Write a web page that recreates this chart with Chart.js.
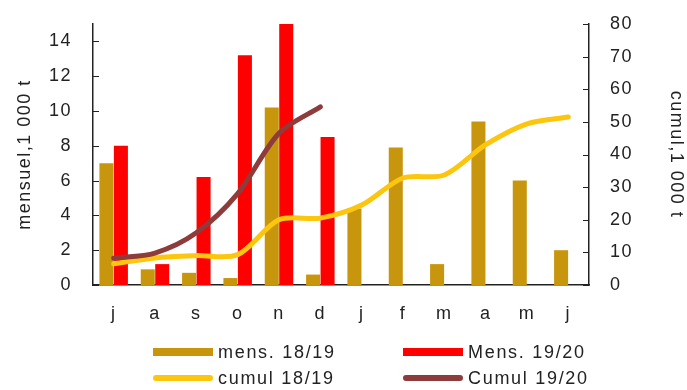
<!DOCTYPE html>
<html>
<head>
<meta charset="utf-8">
<script src="https://cdn.jsdelivr.net/npm/chart.js@4.4.1/dist/chart.umd.min.js"></script>
<style>
  html, body { margin: 0; padding: 0; background: #fff; }
  #wrap { position: relative; width: 687px; height: 390px; overflow: hidden; }
  #c { position: absolute; left: 0; top: 0; }
  #legend { position: absolute; left: 0; top: 0; width: 687px; height: 390px; pointer-events: none;
    font-family: "Liberation Sans", Arial, sans-serif; font-size: 18px; color: #222; letter-spacing: 1.7px; }
  .item { position: absolute; display: flex; align-items: center; white-space: nowrap; }
  .sw { display: inline-block; width: 60px; margin-right: 5px; }
</style>
</head>
<body>
<div id="wrap">
  <canvas id="c" width="687" height="390"></canvas>
  <div id="legend"></div>
</div>
<script>
// ---- data ----
const months = ['j', 'a', 's', 'o', 'n', 'd', 'j', 'f', 'm', 'a', 'm', 'j'];
const mens1819 = [7.0, 0.9, 0.7, 0.4, 10.2, 0.6, 4.4, 7.9, 1.2, 9.4, 6.0, 2.0];
const mens1920 = [8.0, 1.2, 6.2, 13.2, 15.0, 8.5, null, null, null, null, null, null];
const cumul1819 = [6.5, 8.3, 9.0, 9.3, 20.0, 20.5, 24.5, 32.8, 33.7, 43.0, 49.4, 51.5];
const cumul1920 = [8.2, 9.8, 16.0, 28.0, 46.5, 54.6, null, null, null, null, null, null];
const leftTicks = [0, 2, 4, 6, 8, 10, 12, 14];
const rightTicks = [0, 10, 20, 30, 40, 50, 60, 70, 80];
const labels = ['mens. 18/19', 'Mens. 19/20', 'cumul 18/19', 'Cumul 19/20'];
const titleLeft = 'mensuel,1 000 t';
const titleRight = 'cumul,1 000 t';

const cGold = '#C8960C';
const cRed = '#FF0000';
const cYellow = '#FCC60E';
const cBrown = '#8E3B3B';
const FONT = { family: '"Liberation Sans", Arial, sans-serif', size: 18 };

const datasets = [
  { type: 'bar', label: labels[0], data: mens1819, backgroundColor: cGold, yAxisID: 'y', order: 2,
    categoryPercentage: 0.7, barPercentage: 0.97 },
  { type: 'bar', label: labels[1], data: mens1920, backgroundColor: cRed, yAxisID: 'y', order: 2,
    categoryPercentage: 0.7, barPercentage: 0.97 },
  { type: 'line', label: labels[2], data: cumul1819, borderColor: cYellow, backgroundColor: cYellow,
    borderWidth: 5, pointRadius: 0, tension: 0.3, yAxisID: 'y2', order: 1, borderCapStyle: 'round', borderJoinStyle: 'round' },
  { type: 'line', label: labels[3], data: cumul1920, borderColor: cBrown, backgroundColor: cBrown,
    borderWidth: 5, pointRadius: 0, tension: 0.3, yAxisID: 'y2', order: 0, borderCapStyle: 'round', borderJoinStyle: 'round' }
];

// letter spacing (the reference text is slightly spread) + inward tick marks
const stylePlugin = {
  id: 'stylePlugin',
  beforeDraw(chart) { chart.ctx.letterSpacing = '1.5px'; },
  afterDraw(chart) {
    const ctx = chart.ctx;
    const { left, right } = chart.chartArea;
    ctx.save();
    ctx.strokeStyle = '#222';
    ctx.lineWidth = 1;
    const ys = chart.scales.y, y2 = chart.scales.y2;
    ys.ticks.forEach(t => {
      const p = Math.round(ys.getPixelForValue(t.value)) + 0.5;
      ctx.beginPath(); ctx.moveTo(left, p); ctx.lineTo(left + 6, p); ctx.stroke();
    });
    y2.ticks.forEach(t => {
      const p = Math.round(y2.getPixelForValue(t.value)) + 0.5;
      ctx.beginPath(); ctx.moveTo(right - 6, p); ctx.lineTo(right, p); ctx.stroke();
    });
    ctx.restore();
  }
};

const noPad = s => { s.paddingTop = 0; s.paddingBottom = 0; s.paddingLeft = 0; s.paddingRight = 0; };

const chart = new Chart(document.getElementById('c'), {
  data: { labels: months, datasets },
  plugins: [stylePlugin],
  options: {
    responsive: false,
    devicePixelRatio: 1,
    animation: false,
    layout: { padding: { left: 0, right: 0, top: 24, bottom: 65 } },
    plugins: { legend: { display: false }, tooltip: { enabled: false } },
    scales: {
      x: {
        grid: { display: false, drawTicks: false },
        border: { display: true, color: '#222', width: 1.5 },
        ticks: { font: FONT, color: '#222', padding: 18, maxRotation: 0 },
        afterFit: s => { s.height = 40; noPad(s); }
      },
      y: {
        position: 'left', min: 0, max: 15,
        grid: { display: false, drawTicks: false },
        border: { display: true, color: '#222', width: 1.5 },
        ticks: { font: FONT, color: '#222', padding: 21, stepSize: 2 },
        afterBuildTicks: s => { s.ticks = leftTicks.map(v => ({ value: v })); },
        title: { display: true, text: titleLeft, font: FONT, color: '#222', padding: { top: 14, bottom: 0 } },
        afterFit: s => { s.width = 93; noPad(s); }
      },
      y2: {
        position: 'right', min: 0, max: 80,
        grid: { display: false, drawTicks: false },
        border: { display: true, color: '#222', width: 1.5 },
        ticks: { font: FONT, color: '#222', padding: 21, stepSize: 10 },
        afterBuildTicks: s => { s.ticks = rightTicks.map(v => ({ value: v })); },
        title: { display: true, text: titleRight, font: FONT, color: '#222', padding: { top: 0, bottom: 0 } },
        afterFit: s => { s.width = 98; noPad(s); }
      }
    }
  }
});

// ---- HTML legend built from the chart's datasets ----
const legendPos = [
  { x: 153, y: 352 }, { x: 403, y: 352 },
  { x: 153, y: 378 }, { x: 403, y: 378 }
];
const lg = document.getElementById('legend');
chart.data.datasets.forEach((ds, i) => {
  const it = document.createElement('div');
  it.className = 'item';
  it.style.left = legendPos[i].x + 'px';
  it.style.top = (legendPos[i].y - 11) + 'px';
  it.style.height = '22px';
  const sw = document.createElement('span');
  sw.className = 'sw';
  const isLine = ds.type === 'line';
  sw.style.height = isLine ? '6px' : '8px';
  sw.style.borderRadius = isLine ? '3px' : '0';
  sw.style.background = isLine ? ds.borderColor : ds.backgroundColor;
  const tx = document.createElement('span');
  tx.textContent = ds.label;
  it.appendChild(sw); it.appendChild(tx);
  lg.appendChild(it);
});
</script>
</body>
</html>
